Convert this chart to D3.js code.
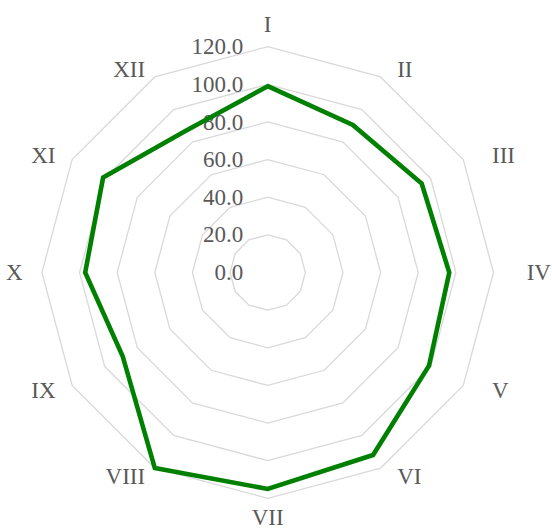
<!DOCTYPE html>
<meta charset="utf-8">
<script src="https://d3js.org/d3.v7.min.js"></script>
<style>
  body { margin: 0; background: #fff; }
  text { font-family: "Liberation Serif", "Times New Roman", serif; fill: #595959; }
</style>
<div id="radar"></div>
<script>
    // categories and values
    var axes = ["I", "II", "III", "IV", "V", "VI", "VII", "VIII", "IX", "X", "XI", "XII"];
    var values = [99, 90.5, 94.5, 96.5, 99, 112, 115, 120, 89, 97, 101, 87];
    var ticks = [0, 20, 40, 60, 80, 100, 120];

    var width = 552, height = 530,
        cx = 267.7, cy = 272.5;

    var svg = d3.select("#radar")
        .append("svg")
        .attr("width", width)
        .attr("height", height);

    var r = d3.scaleLinear().domain([0, 120]).range([0, 225.8]);

    // angle of each axis, clockwise from the top
    var angle = d3.scalePoint()
        .domain(axes)
        .range([0, 2 * Math.PI * (axes.length - 1) / axes.length]);

    function px(a, v) { return cx + r(v) * Math.sin(angle(a)); }
    function py(a, v) { return cy - r(v) * Math.cos(angle(a)); }

    // grid rings (no ring at zero)
    svg.append("g")
        .selectAll("polygon")
        .data(ticks.filter(function (t) { return t > 0; }))
        .enter()
        .append("polygon")
        .attr("points", function (t) {
            return axes.map(function (a) { return px(a, t) + "," + py(a, t); }).join(" ");
        })
        .attr("fill", "none")
        .attr("stroke", "#d9d9d9")
        .attr("stroke-width", 1.3);

    // value labels along the first axis
    svg.append("g")
        .selectAll("text")
        .data(ticks)
        .enter()
        .append("text")
        .attr("x", cx - 24.5)
        .attr("y", function (t) { return cy - r(t); })
        .attr("dy", "0.33em")
        .attr("text-anchor", "end")
        .style("font-size", "23px")
        .text(function (t) { return t.toFixed(1); });

    // category labels round the outside
    svg.append("g")
        .selectAll("text")
        .data(axes)
        .enter()
        .append("text")
        .attr("x", function (a) {
            var s = Math.sin(angle(a));
            if (Math.abs(s) < 0.01) return cx;
            return cx + (s > 0 ? 259 : 245) * s;
        })
        .attr("y", function (a) {
            var c = Math.cos(angle(a));
            var y = cy - 235 * c;
            if (c > 0.99) y -= 13;       // top label sits a little higher
            if (c < -0.99) y += 10;      // bottom label, kept inside the frame
            return y;
        })
        .attr("dy", "0.33em")
        .attr("text-anchor", function (a) {
            var s = Math.sin(angle(a));
            if (Math.abs(s) < 0.01) return "middle";
            return s > 0 ? "start" : "end";
        })
        .style("font-size", "23px")
        .text(function (a) { return a; });

    // the series
    var line = d3.lineRadial()
        .angle(function (d) { return angle(d.axis); })
        .radius(function (d) { return r(d.value); })
        .curve(d3.curveLinearClosed);

    var data = axes.map(function (a, i) { return { axis: a, value: values[i] }; });

    svg.append("path")
        .datum(data)
        .attr("transform", "translate(" + cx + "," + cy + ")")
        .attr("d", line)
        .attr("fill", "none")
        .attr("stroke", "#008000")
        .attr("stroke-width", 4.6)
        .attr("stroke-linejoin", "miter");
</script>
